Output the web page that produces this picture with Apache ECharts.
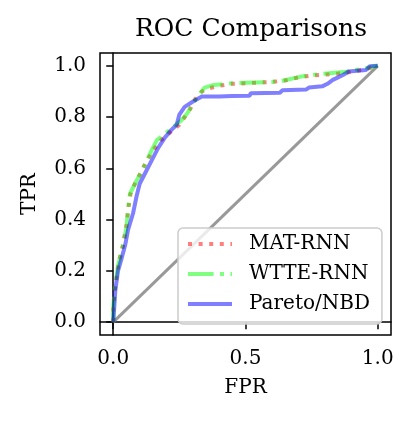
<!DOCTYPE html>
<html>
<head>
<meta charset="utf-8">
<script src="https://cdn.jsdelivr.net/npm/echarts@6/dist/echarts.min.js"></script>
<style>
  html, body { margin: 0; padding: 0; background: #fff; }
  #roc { width: 413px; height: 423px; }
</style>
</head>
<body>
<div id="roc"></div>
<script>
// ROC curves
const matFpr = [0, 0, 0.008, 0.02, 0.037, 0.05, 0.058, 0.065, 0.082, 0.108, 0.127, 0.15, 0.18, 0.22, 0.25, 0.27, 0.29, 0.31, 0.335, 0.36, 0.4, 0.45, 0.5, 0.55, 0.6, 0.65, 0.7, 0.75, 0.8, 0.85, 0.9, 0.95, 1.0];
const matTpr = [0, 0.06, 0.14, 0.23, 0.3, 0.38, 0.45, 0.5, 0.54, 0.59, 0.63, 0.67, 0.71, 0.745, 0.77, 0.8, 0.83, 0.87, 0.9, 0.912, 0.922, 0.93, 0.932, 0.935, 0.937, 0.943, 0.955, 0.962, 0.966, 0.97, 0.976, 0.986, 1.0];

const wtteFpr = [0, 0, 0.006, 0.018, 0.037, 0.05, 0.056, 0.063, 0.082, 0.108, 0.127, 0.145, 0.165, 0.22, 0.26, 0.28, 0.315, 0.345, 0.38, 0.45, 0.5, 0.6, 0.64, 0.705, 0.78, 0.88, 0.94, 1.0];
const wtteTpr = [0, 0.06, 0.13, 0.22, 0.3, 0.37, 0.44, 0.5, 0.54, 0.59, 0.63, 0.67, 0.71, 0.755, 0.79, 0.815, 0.875, 0.915, 0.925, 0.932, 0.934, 0.937, 0.942, 0.957, 0.968, 0.977, 0.988, 1.0];

const paretoFpr = [0, 0.004, 0.008, 0.018, 0.032, 0.045, 0.056, 0.075, 0.088, 0.1, 0.12, 0.145, 0.17, 0.195, 0.22, 0.24, 0.25, 0.27, 0.3, 0.335, 0.4, 0.45, 0.515, 0.52, 0.63, 0.64, 0.73, 0.74, 0.79, 0.81, 0.83, 0.85, 0.87, 0.89, 0.955, 0.97, 1.0];
const paretoTpr = [0, 0.06, 0.125, 0.2, 0.25, 0.3, 0.36, 0.425, 0.49, 0.54, 0.58, 0.63, 0.68, 0.72, 0.75, 0.77, 0.81, 0.84, 0.86, 0.88, 0.88, 0.882, 0.883, 0.893, 0.895, 0.905, 0.908, 0.915, 0.92, 0.93, 0.945, 0.955, 0.965, 0.978, 0.984, 0.998, 1.0];

const chanceLine = [0, 1];
const xTicks = [0, 0.5, 1.0];
const yTicks = [0, 0.2, 0.4, 0.6, 0.8, 1.0];

const font = 'DejaVu Serif';
const zip = (xs, ys) => xs.map((x, i) => [x, ys[i]]);

const chart = echarts.init(document.getElementById('roc'));

const axisCommon = {
  type: 'value',
  min: -0.05,
  max: 1.05,
  nameLocation: 'middle',
  nameTextStyle: { fontFamily: font, fontSize: 20, color: '#000' },
  splitLine: { show: false },
  axisLine: { show: true, lineStyle: { color: '#000', width: 1.5 } },
  axisTick: { show: true, length: 7, lineStyle: { color: '#000', width: 1.5 } },
};

chart.setOption({
  animation: false,
  title: {
    text: 'ROC Comparisons',
    left: 246,
    textAlign: 'center',
    top: 12,
    textStyle: { fontFamily: font, fontSize: 25, fontWeight: 'normal', color: '#000' },
  },
  grid: {
    left: 100, top: 53, right: 22, bottom: 88,
    show: true, borderColor: '#000', borderWidth: 1.5,
  },
  legend: {
    orient: 'vertical',
    left: 178,
    top: 228,
    padding: [6, 12, 10, 8],
    itemGap: 10,
    itemWidth: 44,
    itemHeight: 14,
    backgroundColor: 'rgba(255,255,255,0.8)',
    borderColor: '#cccccc',
    borderWidth: 1.5,
    borderRadius: 5,
    itemStyle: { opacity: 0 },
    lineStyle: { width: 4 },
    textStyle: { fontFamily: font, fontSize: 20, color: '#000', lineHeight: 20, padding: [0, 0, 0, 12] },
    data: ['MAT-RNN', 'WTTE-RNN', 'Pareto/NBD'],
  },
  xAxis: {
    ...axisCommon,
    name: 'FPR',
    nameGap: 43,
    axisTick: { ...axisCommon.axisTick, customValues: xTicks },
    axisLabel: {
      customValues: xTicks, margin: 14,
      fontFamily: font, fontSize: 20, color: '#000',
      formatter: (v) => v.toFixed(1),
    },
  },
  yAxis: {
    ...axisCommon,
    name: 'TPR',
    nameGap: 60,
    axisTick: { ...axisCommon.axisTick, customValues: yTicks },
    axisLabel: {
      customValues: yTicks, margin: 14,
      fontFamily: font, fontSize: 20, color: '#000',
      formatter: (v) => v.toFixed(1),
    },
  },
  series: [
    {
      name: 'chance',
      type: 'line',
      symbol: 'none',
      data: zip(chanceLine, chanceLine),
      lineStyle: { color: 'rgba(128,128,128,0.8)', width: 3 },
      z: 1,
    },
    {
      name: 'MAT-RNN',
      type: 'line',
      symbol: 'none',
      data: zip(matFpr, matTpr),
      itemStyle: { color: 'rgba(255,0,0,0.5)' },
      lineStyle: { color: 'rgba(255,0,0,0.5)', width: 4, type: [4, 6.6] },
    },
    {
      name: 'WTTE-RNN',
      type: 'line',
      symbol: 'none',
      data: zip(wtteFpr, wtteTpr),
      itemStyle: { color: 'rgba(0,255,0,0.5)' },
      lineStyle: { color: 'rgba(0,255,0,0.5)', width: 4, type: [25.6, 6.4, 4, 6.4] },
    },
    {
      name: 'Pareto/NBD',
      type: 'line',
      symbol: 'none',
      data: zip(paretoFpr, paretoTpr),
      itemStyle: { color: 'rgba(0,0,255,0.5)' },
      lineStyle: { color: 'rgba(0,0,255,0.5)', width: 4 },
    },
  ],
});
</script>
</body>
</html>
